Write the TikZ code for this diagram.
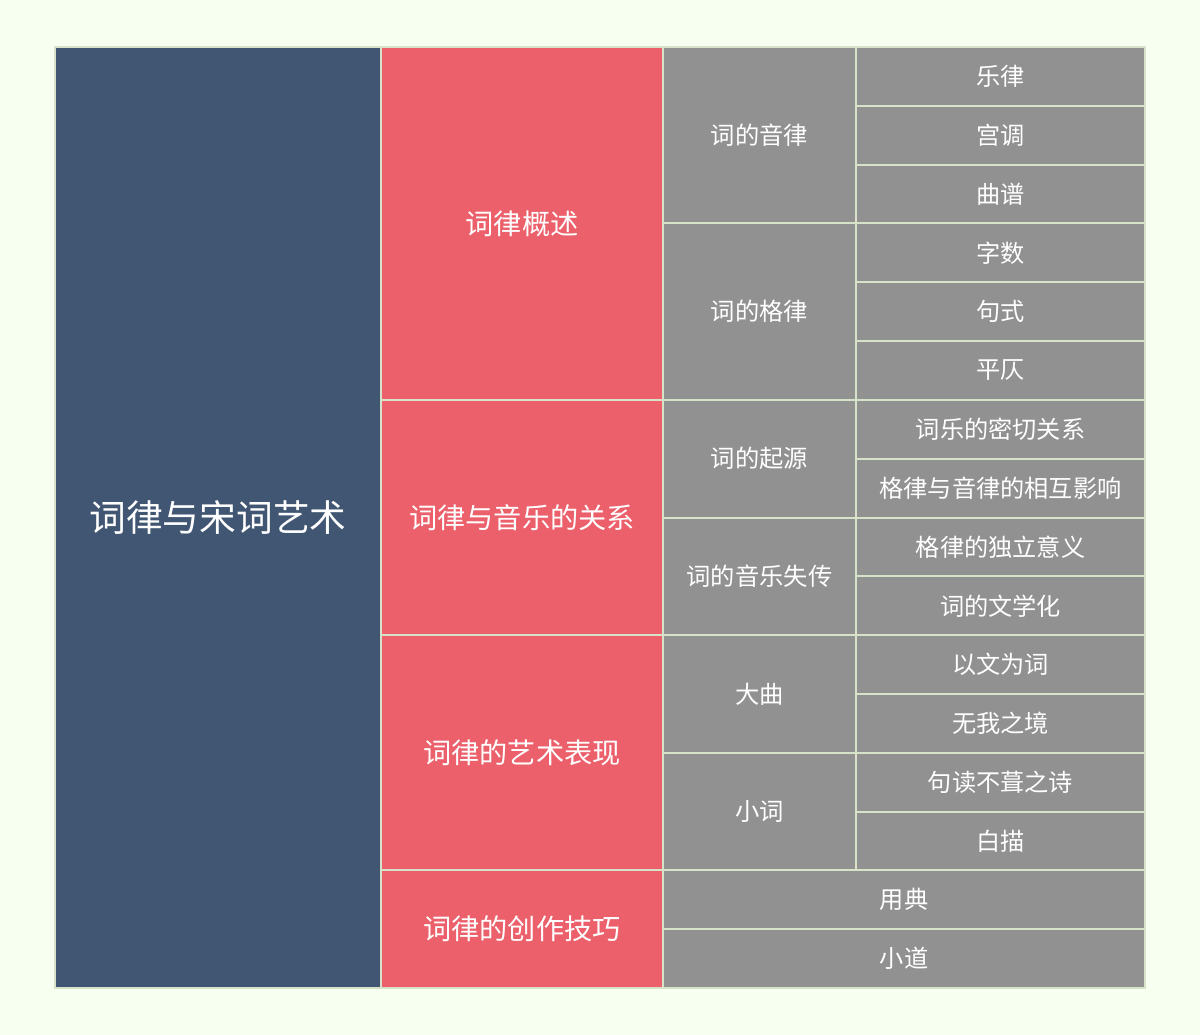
\documentclass[tikz,border=0pt]{standalone}
\usepackage{fontspec}
\newfontfamily\cjk{Noto Sans CJK SC}
\definecolor{bg}{HTML}{F7FFF0}
\definecolor{bd}{HTML}{D6E3C9}
\definecolor{cblue}{HTML}{415672}
\definecolor{cred}{HTML}{EB606A}
\definecolor{cgray}{HTML}{919191}
\tikzset{cell/.style={draw=bd,line width=2pt,inner sep=0pt,text=white,rectangle}}
\newcommand\mycell[8]{%
 \pgfmathsetmacro\myya{47+#4*58.8125}\pgfmathsetmacro\myyb{47+#5*58.8125}%
 \pgfmathsetmacro\mycw{#3-#2}\pgfmathsetmacro\mych{\myyb-\myya}%
 \pgfmathsetmacro\mycx{(#2+#3)/2}\pgfmathsetmacro\mycy{(\myya+\myyb)/2}%
 \node[cell,fill=#6,font=#7,minimum width=\mycw pt,minimum height=\mych pt] (#1) at (\mycx,\mycy) {#8};}
\begin{document}
\begin{tikzpicture}[x=1pt,y=-1pt]
\fill[bg] (0,0) rectangle (1200,1035);
\useasboundingbox (0,0) rectangle (1200,1035);
\def\fa{\cjk\fontsize{36.7}{40}\selectfont}
\def\fb{\cjk\fontsize{28.2}{32}\selectfont}
\def\fc{\cjk\fontsize{24.3}{28}\selectfont}
\def\fd{\cjk\fontsize{24.2}{28}\selectfont}
\mycell{root}{55}{381}{0}{16}{cblue}{\fa}{词律与宋词艺术}
\mycell{g1}{381}{663}{0}{6}{cred}{\fb}{词律概述}
\mycell{g2}{381}{663}{6}{10}{cred}{\fb}{词律与音乐的关系}
\mycell{g3}{381}{663}{10}{14}{cred}{\fb}{词律的艺术表现}
\mycell{g4}{381}{663}{14}{16}{cred}{\fb}{词律的创作技巧}
\mycell{s1}{663}{856}{0}{3}{cgray}{\fc}{词的音律}
\mycell{s2}{663}{856}{3}{6}{cgray}{\fc}{词的格律}
\mycell{s3}{663}{856}{6}{8}{cgray}{\fc}{词的起源}
\mycell{s4}{663}{856}{8}{10}{cgray}{\fc}{词的音乐失传}
\mycell{s5}{663}{856}{10}{12}{cgray}{\fc}{大曲}
\mycell{s6}{663}{856}{12}{14}{cgray}{\fc}{小词}
\mycell{l1}{856}{1145}{0}{1}{cgray}{\fd}{乐律}
\mycell{l2}{856}{1145}{1}{2}{cgray}{\fd}{宫调}
\mycell{l3}{856}{1145}{2}{3}{cgray}{\fd}{曲谱}
\mycell{l4}{856}{1145}{3}{4}{cgray}{\fd}{字数}
\mycell{l5}{856}{1145}{4}{5}{cgray}{\fd}{句式}
\mycell{l6}{856}{1145}{5}{6}{cgray}{\fd}{平仄}
\mycell{l7}{856}{1145}{6}{7}{cgray}{\fd}{词乐的密切关系}
\mycell{l8}{856}{1145}{7}{8}{cgray}{\fd}{格律与音律的相互影响}
\mycell{l9}{856}{1145}{8}{9}{cgray}{\fd}{格律的独立意义}
\mycell{l10}{856}{1145}{9}{10}{cgray}{\fd}{词的文学化}
\mycell{l11}{856}{1145}{10}{11}{cgray}{\fd}{以文为词}
\mycell{l12}{856}{1145}{11}{12}{cgray}{\fd}{无我之境}
\mycell{l13}{856}{1145}{12}{13}{cgray}{\fd}{句读不葺之诗}
\mycell{l14}{856}{1145}{13}{14}{cgray}{\fd}{白描}
\mycell{l15}{663}{1145}{14}{15}{cgray}{\fd}{用典}
\mycell{l16}{663}{1145}{15}{16}{cgray}{\fd}{小道}
\end{tikzpicture}
\end{document}
